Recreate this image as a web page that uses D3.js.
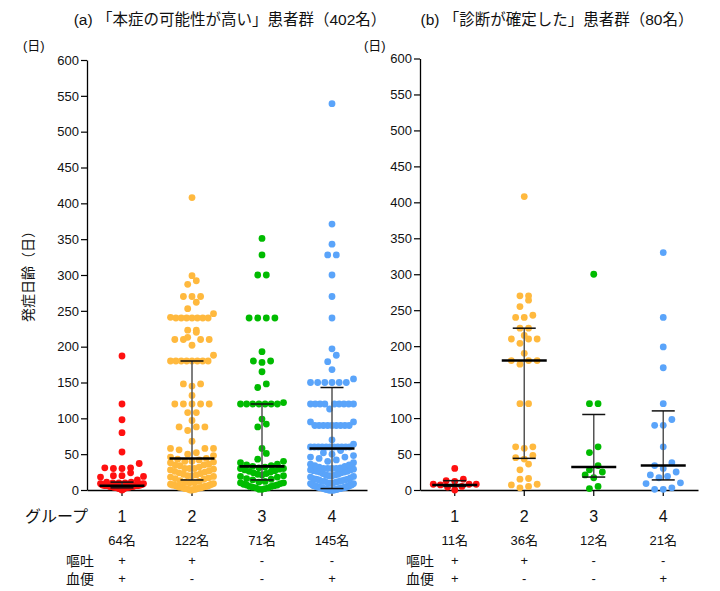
<!DOCTYPE html>
<html><head><meta charset="utf-8">
<script src="https://cdn.jsdelivr.net/npm/d3@7"></script>
<style>
body{margin:0;background:#fff}
text{font-family:"Liberation Sans","Noto Sans CJK JP",sans-serif;fill:#111}
</style>
</head><body>
<svg id="c" width="720" height="591"></svg>
<script>
// ---------- data ----------
const groups = ["1","2","3","4"];
const vomit  = ["+","+","-","-"];
const blood  = ["+","-","-","+"];
const colors = ["#ff1010","#ffb93e","#00bb00","#5aa4fa"];
const yTicks = [0,50,100,150,200,250,300,350,400,450,500,550,600];

const titleA = "(a) 「本症の可能性が高い」患者群（402名）";
const titleB = "(b) 「診断が確定した」患者群（80名）";
const countsA = ["64名","122名","71名","145名"];
const countsB = ["11名","36名","12名","21名"];

// panel (a) values (days)
const a1 = [0,1,1,2,2,2,3,3,3,3,4,4,4,4,4,4,5,5,5,5,5,5,5,5,6,6,6,6,6,6,6,6,
  7,7,7,7,7,7,8,8,8,9,9,10,10,10,11,11,14,18,19,20,20,24,30,30,31,31,37,53,80,98,120,187];
const a2 = [408,299,292,287,270,270,270,262,253,246,241,240,240,240,240,240,240,240,
  223,223,220,213,210,210,210,210,202,188,180,180,180,180,180,180,180,180,
  148,148,145,132,120,120,120,120,120,108,108,97,88,88,88,83,68,58,58,58,56,
  52,50,48,46,
  44,43,42,40,40,39,38,36,35,35,34,32,30,30,30,29,28,27,26,25,24,23,22,21,20,20,19,18,17,16,15,
  13,12,11,10,10,9,8,8,7,7,7,6,6,5,5,5,4,4,4,3,3,3,2,2,2,1,1,1,0,0];
const a3 = [351,328,300,300,240,240,240,240,193,180,180,178,165,148,143,
  122,120,120,120,120,120,120,120,99,92,88,58,51,43,40,
  38,36,35,34,33,
  32,31,30,30,29,28,27,26,25,24,23,22,21,20,19,18,16,15,14,
  12,11,10,10,9,8,7,7,6,5,5,4,3,3,2,1,1];
const a4 = [539,371,343,328,328,300,270,240,197,188,179,168,155,
  150,150,150,150,150,150,120,120,120,120,120,120,120,120,120,113,95,95,
  90,90,90,90,90,90,90,90,90,70,64,60,60,60,60,60,60,60,60,60,60,60,
  55,52,50,48,46,46,44,42,40,38,36,35,34,33,32,31,30,30,30,30,
  29,28,28,27,26,26,25,25,24,23,22,21,21,20,20,19,18,17,16,15,15,
  14,14,13,12,12,12,11,10,10,10,9,9,8,8,7,7,7,6,6,6,5,
  5,5,5,4,4,4,4,3,3,3,3,3,3,2,2,2,2,2,1,1,1,1,1,1,0,0,0,0,0,0];
// panel (b) values (days)
const b1 = [30,15,13,12,8,8,8,7,5,4,0];
const b2 = [408,270,270,264,255,243,240,240,225,225,215,210,210,210,204,190,180,180,180,175,
  120,120,60,60,58,48,45,43,36,28,16,15,8,7,5,3];
const b3 = [300,120,120,60,52,34,28,25,21,17,5,2];
const b4 = [330,240,199,170,120,98,90,90,60,38,34,30,25,21,19,17,10,9,3,1,1];

// summary lines (median, interquartile range)
const medA = [6,44,33,58],  q1A = [3,14,14,2],  q3A = [11,180,120,143];
const medB = [7,180,32,34], q1B = [5,44,18,14], q3B = [13,225,105,110];

// ---------- drawing ----------
const svg = d3.select("#c");
svg.append("rect").attr("width",720).attr("height",591).attr("fill","#fff");

function swarm(vals, cx, y, binH, maxHalf, step){
  const sorted = vals.slice().sort((a,b)=>a-b);
  const pts=[]; let i=0;
  while(i<sorted.length){
    const y0 = y(sorted[i]); const bin=[];
    while(i<sorted.length && y0 - y(sorted[i]) <= binH){ bin.push(sorted[i]); i++; }
    const n = bin.length;
    const s = n>1 ? Math.min(step, 2*maxHalf/(n-1)) : 0;
    const offs = d3.range(n).map(j=>(j-(n-1)/2)*s);
    offs.sort((a,b)=>Math.abs(a)-Math.abs(b) || a-b);
    bin.forEach((v,j)=>pts.push({v, x:cx+offs[j], y:y(v)}));
  }
  return pts;
}

function panel(opt){
  const g = svg.append("g");
  const y = d3.scaleLinear().domain([0,600]).range([490, opt.yTop]);
  const x = d3.scaleBand().domain(groups).range([opt.x0, opt.x1]);
  const cx = k => x(k) + x.bandwidth()/2;

  // y axis
  const ya = g.append("g").attr("transform",`translate(${opt.x0},0)`)
    .call(d3.axisLeft(y).tickValues(yTicks).tickSize(6).tickPadding(2).tickSizeOuter(0));
  ya.select(".domain").attr("stroke","#000").attr("stroke-width",1.3);
  ya.selectAll(".tick line").attr("stroke","#000").attr("stroke-width",1.2);
  ya.selectAll(".tick text").attr("font-size",13).attr("fill","#2a2a2a")
    .style("font-family","'Liberation Sans',sans-serif");

  // x axis
  const xa = g.append("g").attr("transform","translate(0,490)")
    .call(d3.axisBottom(x).tickSize(6).tickSizeOuter(0).tickFormat(""));
  xa.select(".domain").attr("stroke","#000").attr("stroke-width",1.3);
  xa.selectAll(".tick line").attr("stroke","#000").attr("stroke-width",1.2);

  // points
  opt.data.forEach((vals,k)=>{
    const pts = swarm(vals, cx(groups[k]), y, 6.5, 21.5, 8.6);
    g.append("g").selectAll("circle").data(pts).join("circle")
      .attr("cx",d=>d.x).attr("cy",d=>d.y).attr("r",3.4)
      .attr("fill",colors[k]);
  });

  // median + IQR
  groups.forEach((gk,k)=>{
    const c = cx(gk);
    g.append("line").attr("x1",c).attr("x2",c)
      .attr("y1",y(opt.q1[k])).attr("y2",y(opt.q3[k]))
      .attr("stroke","#555").attr("stroke-width",1.5);
    [opt.q1[k],opt.q3[k]].forEach(v=>{
      g.append("line").attr("x1",c-11.5).attr("x2",c+11.5)
        .attr("y1",y(v)).attr("y2",y(v))
        .attr("stroke","#111").attr("stroke-width",1.5);
    });
    g.append("line").attr("x1",c-22.5).attr("x2",c+22.5)
      .attr("y1",y(opt.med[k])).attr("y2",y(opt.med[k]))
      .attr("stroke","#000").attr("stroke-width",2.6);
  });

  // labels below
  groups.forEach((gk,k)=>{
    const c = cx(gk);
    g.append("text").attr("x",c).attr("y",522).attr("text-anchor","middle")
      .attr("font-size",16).text(gk);
    g.append("text").attr("x",c).attr("y",545).attr("text-anchor","middle")
      .attr("font-size",13).text(opt.counts[k]);
    g.append("text").attr("x",c).attr("y",565).attr("text-anchor","middle")
      .attr("font-size",13).text(vomit[k]);
    g.append("text").attr("x",c).attr("y",583).attr("text-anchor","middle")
      .attr("font-size",13).text(blood[k]);
  });
  g.append("text").attr("x",opt.symX).attr("y",566).attr("font-size",14).text("嘔吐");
  g.append("text").attr("x",opt.symX).attr("y",584).attr("font-size",14).text("血便");

  // title and unit
  g.append("text").attr("x",opt.titleX).attr("y",25).attr("text-anchor","middle")
    .attr("font-size",15.5).text(opt.title);
  g.append("text").attr("x",opt.unitX).attr("y",50).attr("font-size",13).text("(日)");
}

panel({x0:87, x1:367, yTop:60, data:[a1,a2,a3,a4], med:medA, q1:q1A, q3:q3A,
       counts:countsA, symX:66, title:titleA, titleX:230, unitX:23});
panel({x0:420, x1:698, yTop:58.5, data:[b1,b2,b3,b4], med:medB, q1:q1B, q3:q3B,
       counts:countsB, symX:406, title:titleB, titleX:557, unitX:364});

svg.append("text").attr("x",25).attr("y",522).attr("font-size",16).text("グループ");
svg.append("text").attr("transform","translate(33,273) rotate(-90)")
  .attr("text-anchor","middle").attr("font-size",14).text("発症日齢（日）");
</script>
</body></html>
